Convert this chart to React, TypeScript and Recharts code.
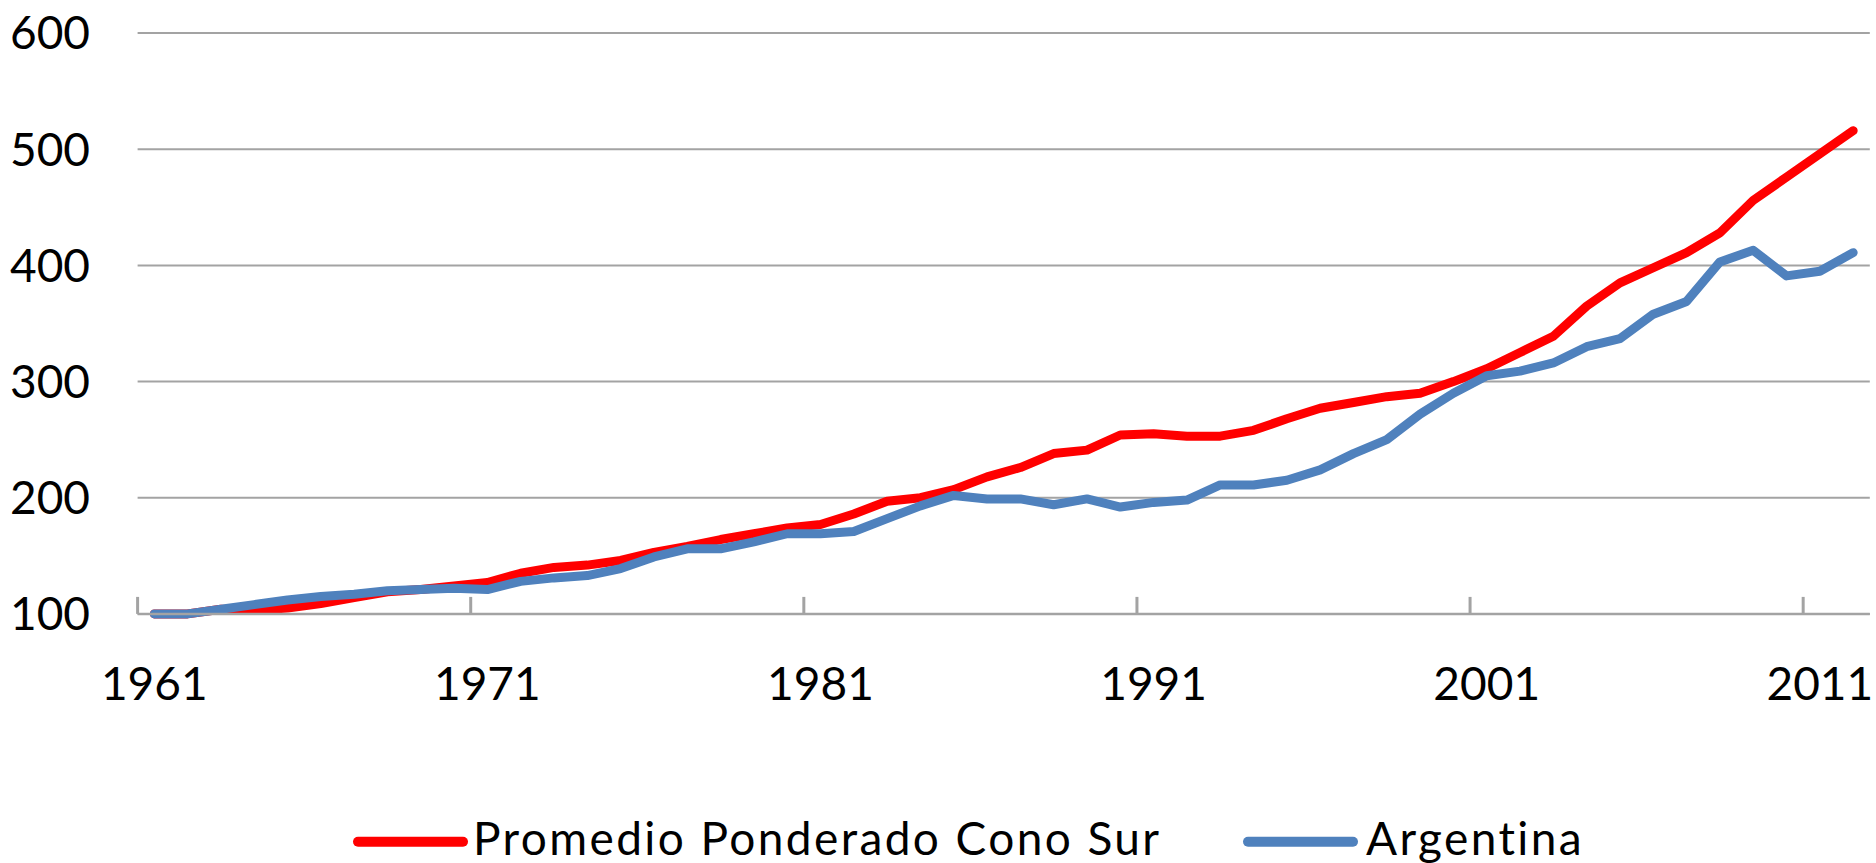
import React from 'react';
import { LineChart, Line, XAxis, YAxis, CartesianGrid, Legend } from 'recharts';

const years = [
  1961, 1962, 1963, 1964, 1965, 1966, 1967, 1968, 1969, 1970,
  1971, 1972, 1973, 1974, 1975, 1976, 1977, 1978, 1979, 1980,
  1981, 1982, 1983, 1984, 1985, 1986, 1987, 1988, 1989, 1990,
  1991, 1992, 1993, 1994, 1995, 1996, 1997, 1998, 1999, 2000,
  2001, 2002, 2003, 2004, 2005, 2006, 2007, 2008, 2009, 2010,
  2011, 2012,
];

const conoSur = [
  100, 100, 104, 103, 105, 109, 114, 119, 121, 124,
  127, 135, 140, 142, 146, 153, 158, 164, 169, 174,
  177, 186, 197, 200, 207, 218, 226, 238, 241, 254,
  255, 253, 253, 258, 268, 277, 282, 287, 290, 300,
  311, 325, 339, 365, 385, 398, 411, 428, 456, 476,
  496, 516,
];

const argentina = [
  100, 100, 104, 108, 112, 115, 117, 120, 121, 122,
  121, 128, 131, 133, 139, 149, 156, 156, 162, 169,
  169, 171, 182, 193, 202, 199, 199, 194, 199, 192,
  196, 198, 211, 211, 215, 224, 238, 250, 272, 290,
  305, 309, 316, 330, 337, 358, 369, 403, 413, 391,
  395, 411,
];

const xTickLabels = [1961, 1971, 1981, 1991, 2001, 2011];
const xTickMarks = [1960.5, 1970.5, 1980.5, 1990.5, 2000.5, 2010.5];
const yTicks = [100, 200, 300, 400, 500, 600];
const seriesNames = ['Promedio Ponderado Cono Sur', 'Argentina'];
const seriesColors = ['#FF0000', '#4F81BD'];

const data = years.map((year, i) => ({ year, cono: conoSur[i], arg: argentina[i] }));

const FONT = 'Lato, "Open Sans", sans-serif';
const GRID = '#A3A3A3';

const legendLayout = [
  { x1: 358, x2: 463, textX: 473 },
  { x1: 1248, x2: 1353, textX: 1366 },
];

function renderLegend(props: any) {
  const payload = (props && props.payload && props.payload.length)
    ? props.payload
    : seriesNames.map((n, i) => ({ value: n, color: seriesColors[i] }));
  return (
    <svg width={1876} height={63} style={{ display: 'block' }}>
      {payload.map((entry: any) => {
        const idx = Math.max(0, seriesNames.indexOf(String(entry.value)));
        const l = legendLayout[idx];
        return (
          <g key={String(entry.value)}>
            <line x1={l.x1} x2={l.x2} y1={41.7} y2={41.7} stroke={entry.color || seriesColors[idx]} strokeWidth={10} strokeLinecap="round" />
            <text
              x={l.textX}
              y={55}
              fontFamily={FONT}
              fontSize={46}
              fill="#000"
              style={{ letterSpacing: '2.4px', fontVariantLigatures: 'none' }}
            >
              {entry.value}
            </text>
          </g>
        );
      })}
    </svg>
  );
}

function EmptyTick() {
  return <g />;
}

export default function App() {
  return (
    <div style={{ position: 'absolute', left: 0, top: 0, width: 1876, height: 863, background: '#fff' }}>
      <LineChart
        width={1876}
        height={863}
        data={data}
        margin={{ top: 33.1, right: 6.2, bottom: 148.1, left: 0 }}
      >
        <CartesianGrid xAxisId="b_labels" vertical={false} stroke={GRID} strokeWidth={2} />
        <XAxis
          xAxisId="b_labels"
          type="number"
          dataKey="year"
          domain={[1960.5, 2012.5]}
          ticks={xTickLabels}
          interval={0}
          tickSize={0}
          tickMargin={52}
          height={100}
          allowDataOverflow
          axisLine={false}
          tickLine={false}
          tick={{ fontFamily: FONT, fontSize: 46, fill: '#000' }}
        />
        <XAxis
          xAxisId="a_marks"
          type="number"
          dataKey="year"
          domain={[1960.5, 2012.5]}
          ticks={xTickMarks}
          interval={0}
          tick={EmptyTick}
          tickSize={-17}
          height={1}
          allowDataOverflow
          axisLine={{ stroke: GRID, strokeWidth: 2.5 }}
          tickLine={{ stroke: GRID, strokeWidth: 3 }}
        />
        <YAxis
          type="number"
          domain={[100, 600]}
          ticks={yTicks}
          interval={0}
          width={137.6}
          tickSize={0}
          tickMargin={47.6}
          axisLine={false}
          tickLine={false}
          tick={{ fontFamily: FONT, fontSize: 46, fill: '#000' }}
        />
        <Legend
          layout="horizontal"
          verticalAlign="middle"
          align="center"
          wrapperStyle={{ left: 0, top: 800, width: 1876, height: 63 }}
          content={renderLegend}
        />
        <Line
          xAxisId="b_labels"
          type="linear"
          dataKey="cono"
          name={seriesNames[0]}
          stroke={seriesColors[0]}
          strokeWidth={9}
          strokeLinejoin="round"
          strokeLinecap="round"
          dot={false}
          activeDot={false}
          isAnimationActive={false}
        />
        <Line
          xAxisId="b_labels"
          type="linear"
          dataKey="arg"
          name={seriesNames[1]}
          stroke={seriesColors[1]}
          strokeWidth={9}
          strokeLinejoin="round"
          strokeLinecap="round"
          dot={false}
          activeDot={false}
          isAnimationActive={false}
        />
      </LineChart>
    </div>
  );
}
